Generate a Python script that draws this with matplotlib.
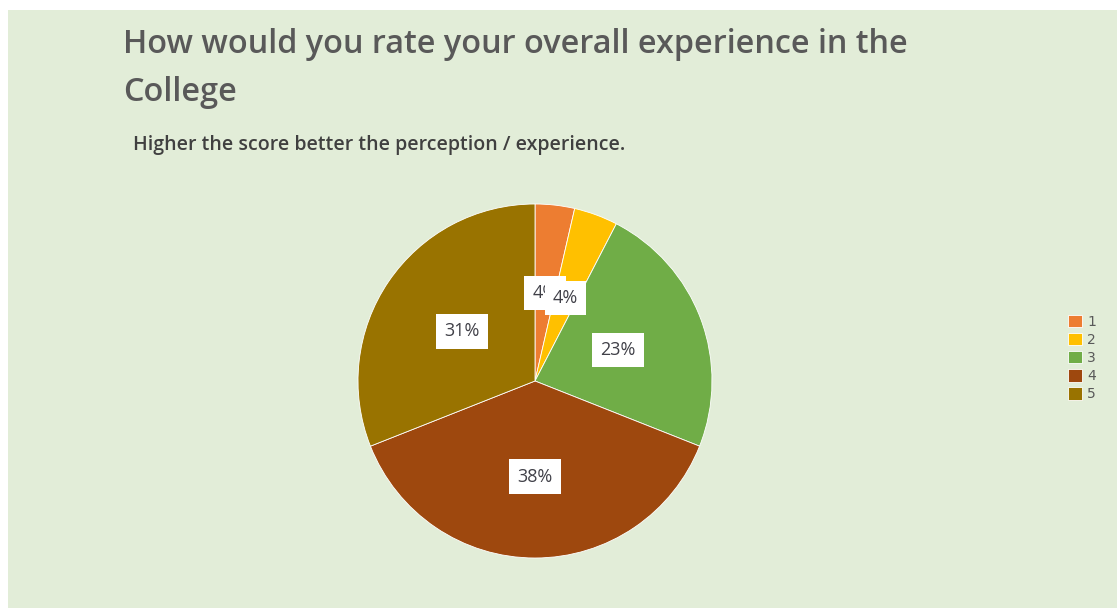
import matplotlib.pyplot as plt
from matplotlib.patches import Rectangle
import numpy as np

# data
categories = ['1', '2', '3', '4', '5']
shares = [3.6, 4.0, 23.4, 38.0, 31.0]
colors = ['#ED7D31', '#FFC000', '#70AD47', '#9E480E', '#997300']

bg = '#e2edd8'
W, H = 1117, 608
fig = plt.figure(figsize=(W/100, H/100), dpi=100)
fig.patch.set_facecolor('white')
fig.patches.append(Rectangle((8/W, 0), 1, 1 - 10/H, transform=fig.transFigure,
                             facecolor=bg, edgecolor='none', zorder=-5))

title_lines = ['How would you rate your overall experience in the', 'College']
for line, base in zip(title_lines, [53, 101]):
    fig.text(123/W, 1 - base/H, line, fontsize=23.3, color='#595959', family='Open Sans',
             fontweight='semibold', va='baseline', ha='left')
fig.text(133/W, 1 - 150/H, 'Higher the score better the perception / experience.',
         fontsize=14, color='#404040', family='Open Sans', fontweight='semibold',
         va='baseline', ha='left')

cx, cy, R = 535, 381, 177
ax = fig.add_axes([(cx - R)/W, (H - cy - R)/H, 2*R/W, 2*R/H])
wedges, _ = ax.pie(shares, colors=colors, startangle=90, counterclock=False,
                   wedgeprops=dict(edgecolor='white', linewidth=0.6))
ax.set_xlim(-1, 1)
ax.set_ylim(-1, 1)
ax.set_aspect('equal')
ax.axis('off')

# percentage labels (the first one sits partly under the second, as in the original)
total = sum(shares)
cum = 0
for i, v in enumerate(shares):
    mid = (cum + v/2) / total * 2*np.pi
    cum += v
    d = 0.54 if i == 3 else 0.5
    x = d*np.sin(mid)
    y = d*np.cos(mid)
    ax.text(x, y, f'{round(v):d}%', ha='center', va='center', fontsize=13,
            color='#404048', family='Open Sans', zorder=5 + i,
            bbox=dict(facecolor='white', edgecolor='none', pad=6))

leg = fig.legend(wedges, categories, loc='center left', bbox_to_anchor=(1061/W, 1 - 358/H),
                 frameon=False, fontsize=10, handlelength=1.0, handleheight=1.0,
                 handletextpad=0.4, labelspacing=0.3, borderpad=0)
for t in leg.get_texts():
    t.set_color('#595959')

fig.savefig('out.png', dpi=100, facecolor=fig.get_facecolor())
